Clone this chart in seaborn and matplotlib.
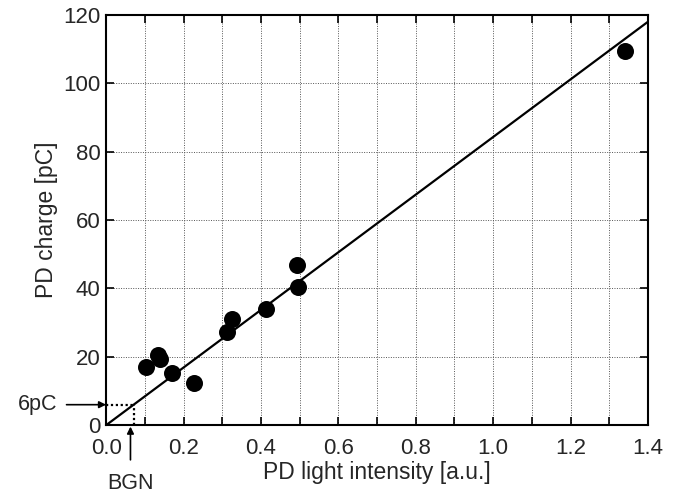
import numpy as np
import pandas as pd
import seaborn as sns
import matplotlib.pyplot as plt
from matplotlib.ticker import MultipleLocator

# measured points
light = [0.103, 0.133, 0.140, 0.171, 0.227, 0.312, 0.326, 0.413, 0.495, 0.494, 1.341]
charge = [17.0, 20.5, 19.5, 15.4, 12.2, 27.3, 31.2, 34.1, 40.3, 46.8, 109.3]

# fitted line end points
fit_x = [0.0, 1.4]
fit_y = [0.0, 118.0]

# background level
bgn_x = 0.071
bgn_y = 6.0

df = pd.DataFrame({"light": light, "charge": charge})

sns.set_style("ticks")
plt.rcParams['font.family'] = ['Liberation Sans', 'DejaVu Sans']

fig = plt.figure(figsize=(6.8, 4.95), dpi=100)
ax = fig.add_axes([0.156, 0.141, 0.797, 0.829])

sns.lineplot(x=fit_x, y=fit_y, color='black', linewidth=1.6, ax=ax, zorder=3)
sns.scatterplot(data=df, x="light", y="charge", color='black', s=150,
                edgecolor='black', linewidth=0, ax=ax, zorder=4)

# dotted guide lines for the background level
ax.plot([0, bgn_x], [bgn_y, bgn_y], color='black', linestyle=(0, (1, 1.2)), linewidth=1.6)
ax.plot([bgn_x, bgn_x], [0, bgn_y], color='black', linestyle=(0, (1, 1.2)), linewidth=1.6)

ax.set_xlim(0, 1.4)
ax.set_ylim(0, 120)
ax.xaxis.set_major_locator(MultipleLocator(0.2))
ax.xaxis.set_minor_locator(MultipleLocator(0.1))
ax.yaxis.set_major_locator(MultipleLocator(20))
ax.xaxis.set_major_formatter(plt.FuncFormatter(lambda v, p: f"{v:.1f}"))

ax.grid(which='both', axis='x', color='#555555', linestyle=(0, (1, 1.5)), linewidth=0.7)
ax.grid(which='major', axis='y', color='#555555', linestyle=(0, (1, 1.5)), linewidth=0.7)
ax.set_axisbelow(True)

ax.tick_params(which='both', direction='in', top=True, right=True, length=6,
               width=1.2, labelsize=16, color='black')
ax.tick_params(axis='x', pad=9)
ax.tick_params(axis='y', pad=4)
for s in ax.spines.values():
    s.set_linewidth(1.5)
    s.set_color('black')

ax.set_xlabel("PD light intensity [a.u.]", fontsize=16.5, labelpad=2)
ax.set_ylabel("PD charge [pC]", fontsize=16.5, labelpad=4)

# annotations outside the axes
ax.annotate("6pC", xy=(0, bgn_y), xytext=(-0.125, bgn_y), ha='right', va='center',
            fontsize=15.5, annotation_clip=False,
            arrowprops=dict(arrowstyle='-|>', color='black', lw=1.2, mutation_scale=10,
                            shrinkA=4, shrinkB=0))
ax.annotate("BGN", xy=(bgn_x - 0.008, 0), xytext=(bgn_x - 0.008, -17.0), ha='center', va='center',
            fontsize=15.5, annotation_clip=False,
            arrowprops=dict(arrowstyle='-|>', color='black', lw=1.2, mutation_scale=10,
                            shrinkA=7, shrinkB=1))

fig.savefig("out.png", dpi=100)
